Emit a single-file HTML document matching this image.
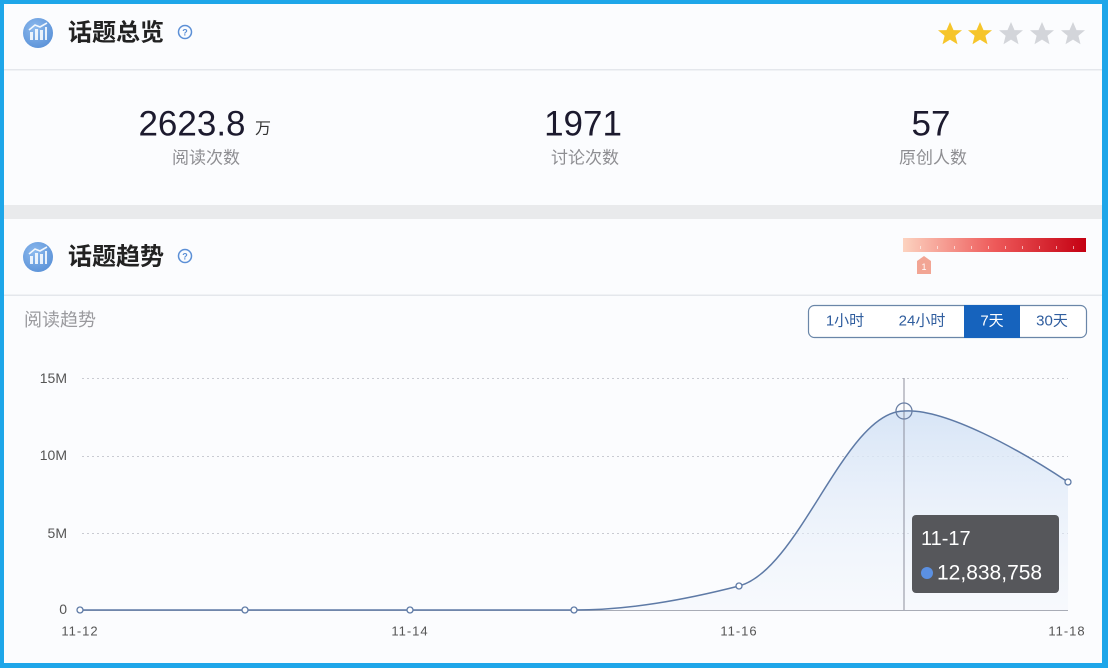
<!DOCTYPE html>
<html><head><meta charset="utf-8">
<style>
html,body{margin:0;padding:0;background:#fbfcfe;}
svg{display:block;}
text{font-family:"Liberation Sans","Noto Sans CJK SC",sans-serif;}
</style></head>
<body>
<svg width="1108" height="668" viewBox="0 0 1108 668" xmlns="http://www.w3.org/2000/svg">
<defs>
<linearGradient id="area" x1="0" y1="0" x2="0" y2="1">
<stop offset="0" stop-color="#d6e4f6" stop-opacity="0.95"/>
<stop offset="1" stop-color="#eef3fb" stop-opacity="0.3"/>
</linearGradient>
<linearGradient id="heat" x1="0" y1="0" x2="1" y2="0">
<stop offset="0" stop-color="#fcd3c0"/>
<stop offset="0.5" stop-color="#ee5a5a"/>
<stop offset="1" stop-color="#c40012"/>
</linearGradient>
<radialGradient id="ico" cx="0.4" cy="0.35" r="0.7">
<stop offset="0" stop-color="#8dbaee"/>
<stop offset="1" stop-color="#5b92d8"/>
</radialGradient>
<g id="icon">
<circle cx="0" cy="0" r="15" fill="url(#ico)"/>
<rect x="-8" y="-1" width="3" height="8" fill="#fff" opacity="0.85"/>
<rect x="-3" y="-4" width="3" height="11" fill="#fff" opacity="0.85"/>
<rect x="2" y="-3" width="3" height="10" fill="#fff" opacity="0.85"/>
<rect x="7" y="-6" width="2" height="13" fill="#fff" opacity="0.85"/>
<polyline points="-9,-3 -3,-8 2,-6 9,-10" fill="none" stroke="#fff" stroke-width="1.6" opacity="0.9"/>
</g>
<g id="q">
<circle cx="0" cy="0" r="6.5" fill="none" stroke="#5b8fd6" stroke-width="1.5"/>
<text x="0" y="0.5" font-size="9" fill="#5b8fd6" text-anchor="middle" dominant-baseline="central" font-weight="bold">?</text>
</g>
<path id="star" d="M0,-12 L3.5,-3.9 L12,-3.7 L5.4,1.7 L7.5,10.2 L0,5.6 L-7.5,10.2 L-5.4,1.7 L-12,-3.7 L-3.5,-3.9 Z"/>
</defs>

<!-- outer border -->
<rect x="0" y="0" width="1108" height="668" fill="#1ea6e9"/>
<rect x="4" y="4" width="1098" height="659" fill="#fbfcfe"/>

<!-- header 1 -->
<use href="#icon" x="38" y="33"/>
<text x="68" y="33" font-size="24" font-weight="bold" fill="#222" dominant-baseline="central">话题总览</text>
<use href="#q" x="185" y="32"/>
<use href="#star" x="950" y="34" fill="#f6c52a"/>
<use href="#star" x="980" y="34" fill="#f6c52a"/>
<use href="#star" x="1011" y="34" fill="#d3d5da"/>
<use href="#star" x="1042" y="34" fill="#d3d5da"/>
<use href="#star" x="1073" y="34" fill="#d3d5da"/>
<rect x="4" y="69" width="1098" height="1.5" fill="#e4e7ec"/>

<!-- stats -->
<text x="192" y="124" font-size="35" fill="#1c1a2e" text-anchor="middle" dominant-baseline="central">2623.8</text>
<text x="263" y="129" font-size="16" fill="#333" text-anchor="middle" dominant-baseline="central">万</text>
<text x="206" y="158" font-size="17" fill="#8e8e92" text-anchor="middle" dominant-baseline="central">阅读次数</text>
<text x="583" y="124" font-size="35" fill="#1c1a2e" text-anchor="middle" dominant-baseline="central">1971</text>
<text x="585" y="158" font-size="17" fill="#8e8e92" text-anchor="middle" dominant-baseline="central">讨论次数</text>
<text x="931" y="124" font-size="35" fill="#1c1a2e" text-anchor="middle" dominant-baseline="central">57</text>
<text x="933" y="158" font-size="17" fill="#8e8e92" text-anchor="middle" dominant-baseline="central">原创人数</text>

<!-- gray band -->
<rect x="4" y="205" width="1098" height="14" fill="#e9eaec"/>

<!-- header 2 -->
<use href="#icon" x="38" y="257"/>
<text x="68" y="257" font-size="24" font-weight="bold" fill="#222" dominant-baseline="central">话题趋势</text>
<use href="#q" x="185" y="256"/>
<rect x="903" y="238" width="183" height="14" fill="url(#heat)"/>
<g fill="#fff" opacity="0.6">
<rect x="920" y="246" width="1" height="3"/><rect x="937" y="246" width="1" height="3"/><rect x="954" y="246" width="1" height="3"/><rect x="971" y="246" width="1" height="3"/><rect x="988" y="246" width="1" height="3"/><rect x="1005" y="246" width="1" height="3"/><rect x="1022" y="246" width="1" height="3"/><rect x="1039" y="246" width="1" height="3"/><rect x="1056" y="246" width="1" height="3"/><rect x="1073" y="246" width="1" height="3"/>
</g>
<path d="M917,261 L924,256 L931,261 L931,274 L917,274 Z" fill="#f2a594"/>
<text x="924" y="267" font-size="9" fill="#fff" text-anchor="middle" dominant-baseline="central">1</text>
<rect x="4" y="294.5" width="1098" height="1.5" fill="#e4e7ec"/>

<text x="24" y="320" font-size="18" fill="#9a9a9e" dominant-baseline="central">阅读趋势</text>

<!-- buttons -->
<rect x="808.5" y="305.5" width="278" height="32" rx="6" fill="#fff" stroke="#6a86a8" stroke-width="1.2"/>
<rect x="964" y="305" width="56" height="33" fill="#1663bd"/>
<text x="845" y="321" font-size="15" fill="#2f5d9e" text-anchor="middle" dominant-baseline="central">1小时</text>
<text x="922" y="321" font-size="15" fill="#2f5d9e" text-anchor="middle" dominant-baseline="central">24小时</text>
<text x="992" y="321" font-size="15" fill="#fff" text-anchor="middle" dominant-baseline="central">7天</text>
<text x="1052" y="321" font-size="15" fill="#2f5d9e" text-anchor="middle" dominant-baseline="central">30天</text>

<!-- grid -->
<g stroke="#c9cbd2" stroke-width="1" stroke-dasharray="2,3">
<line x1="82" y1="378.5" x2="1068" y2="378.5"/>
<line x1="82" y1="456.5" x2="1068" y2="456.5"/>
<line x1="82" y1="533.5" x2="1068" y2="533.5"/>
</g>
<line x1="80" y1="610.5" x2="1068" y2="610.5" stroke="#a8acb6" stroke-width="1"/>

<g font-size="14" fill="#555" text-anchor="end" dominant-baseline="central">
<text x="67" y="378">15M</text>
<text x="67" y="455">10M</text>
<text x="67" y="533">5M</text>
<text x="67" y="609">0</text>
</g>
<g font-size="13" fill="#555" text-anchor="middle" dominant-baseline="central" letter-spacing="1">
<text x="80" y="631">11-12</text>
<text x="410" y="631">11-14</text>
<text x="739" y="631">11-16</text>
<text x="1067" y="631">11-18</text>
</g>

<!-- area -->
<path d="M80,610 L574,610 C629,610 684,600 739,586 C800,570 845,411 904,411 C945,408 1020,450 1068,482 L1068,610 Z" fill="url(#area)"/>
<!-- crosshair -->
<line x1="904" y1="378" x2="904" y2="610" stroke="#8c8e9c" stroke-width="1"/>
<!-- line -->
<path d="M80,610 L574,610 C629,610 684,600 739,586 C800,570 845,411 904,411 C945,408 1020,450 1068,482" fill="none" stroke="#5e7aa6" stroke-width="1.5"/>
<g fill="#fff" stroke="#5e7aa6" stroke-width="1.3">
<circle cx="80" cy="610" r="3"/>
<circle cx="245" cy="610" r="3"/>
<circle cx="410" cy="610" r="3"/>
<circle cx="574" cy="610" r="3"/>
<circle cx="739" cy="586" r="3"/>
<circle cx="1068" cy="482" r="3"/>
</g>
<circle cx="904" cy="411" r="8" fill="none" stroke="#6a7fa4" stroke-width="1.3"/>

<!-- tooltip -->
<rect x="912" y="515" width="147" height="78" rx="4" fill="#56575b"/>
<text x="921" y="539" font-size="20" fill="#fff" dominant-baseline="central">11-17</text>
<circle cx="927" cy="573" r="6" fill="#5b90e2"/>
<text x="937" y="573" font-size="21" fill="#fff" dominant-baseline="central">12,838,758</text>
</svg>
</body></html>
